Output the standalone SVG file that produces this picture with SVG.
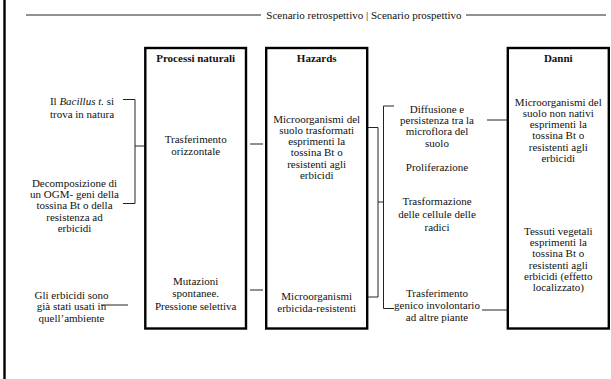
<svg xmlns="http://www.w3.org/2000/svg" width="611" height="379" viewBox="0 0 611 379">
<style>
text{font-family:"Liberation Serif","Times New Roman",serif;font-size:11px;fill:#111;text-anchor:middle}
.h{font-weight:bold}
.box{fill:#fff;stroke:#000;stroke-width:2.4}
.c{fill:none;stroke:#222;stroke-width:1}
</style>
<rect width="611" height="379" fill="#fff"/>
<line x1="4.5" y1="0" x2="4.5" y2="379" stroke="#000" stroke-width="2.4"/>
<g id="title">
<line x1="26" y1="15" x2="261" y2="15" stroke="#222" stroke-width="1"/>
<text x="364" y="18.5">Scenario retrospettivo | Scenario prospettivo</text>
<line x1="466" y1="15" x2="606" y2="15" stroke="#222" stroke-width="1"/>
</g>
<g id="left-bacillus">
<text x="82" y="105"><tspan>Il </tspan><tspan font-style="italic">Bacillus t.</tspan><tspan> si</tspan></text>
<text x="82" y="117.5">trova in natura</text>
</g>
<g id="left-decomposizione">
<text x="74.5" y="186.8">Decomposizione di</text>
<text x="74.5" y="198">un OGM- geni della</text>
<text x="74.5" y="209.3">tossina Bt o della</text>
<text x="74.5" y="220.5">resistenza ad</text>
<text x="74.5" y="231.8">erbicidi</text>
</g>
<g id="left-erbicidi">
<text x="71.5" y="298.5">Gli erbicidi sono</text>
<text x="71.5" y="310">già stati usati in</text>
<text x="71.5" y="321.5">quell’ambiente</text>
</g>
<g id="processi">
<rect class="box" x="145.3" y="48" width="100.7" height="280.5"/>
<text class="h" x="195.7" y="62">Processi naturali</text>
<text x="195.7" y="143">Trasferimento</text>
<text x="195.7" y="154.5">orizzontale</text>
<text x="195.7" y="285">Mutazioni</text>
<text x="195.7" y="297.2">spontanee.</text>
<text x="195.7" y="309.5">Pressione selettiva</text>
</g>
<g id="hazards">
<rect class="box" x="266.2" y="48" width="101" height="280.5"/>
<text class="h" x="316.7" y="62">Hazards</text>
<text x="316.7" y="122.8">Microorganismi del</text>
<text x="316.7" y="134">suolo trasformati</text>
<text x="316.7" y="145.2">esprimenti la</text>
<text x="316.7" y="156.4">tossina Bt o</text>
<text x="316.7" y="167.6">resistenti agli</text>
<text x="316.7" y="178.8">erbicidi</text>
<text x="316.7" y="300.2">Microorganismi</text>
<text x="316.7" y="311.8">erbicida-resistenti</text>
</g>
<g id="effetti">
<text x="437" y="112.5">Diffusione e</text>
<text x="437" y="123.8">persistenza tra la</text>
<text x="437" y="135.1">microflora del</text>
<text x="437" y="146.5">suolo</text>
<text x="437" y="170.5">Proliferazione</text>
<text x="437" y="205.2">Trasformazione</text>
<text x="437" y="218">delle cellule delle</text>
<text x="437" y="231">radici</text>
<text x="437" y="297">Trasferimento</text>
<text x="437" y="309">genico involontario</text>
<text x="437" y="320.5">ad altre piante</text>
</g>
<g id="danni">
<rect class="box" x="507.8" y="48" width="101" height="280.5"/>
<text class="h" x="558.3" y="62">Danni</text>
<text x="558.3" y="105.5">Microorganismi del</text>
<text x="558.3" y="116.8">suolo non nativi</text>
<text x="558.3" y="128.1">esprimenti la</text>
<text x="558.3" y="139.4">tossina Bt o</text>
<text x="558.3" y="150.7">resistenti agli</text>
<text x="558.3" y="162">erbicidi</text>
<text x="558.3" y="235.2">Tessuti vegetali</text>
<text x="558.3" y="246.3">esprimenti la</text>
<text x="558.3" y="257.4">tossina Bt o</text>
<text x="558.3" y="268.5">resistenti agli</text>
<text x="558.3" y="279.6">erbicidi (effetto</text>
<text x="558.3" y="290.8">localizzato)</text>
</g>
<g id="connectors">
<path class="c" d="M123,99.5 H135 V203.5 H123 M135,146 H144"/>
<path class="c" d="M101,305 H128"/>
<path class="c" d="M250,144 H263 M250,290 H263"/>
<path class="c" d="M368,127.5 H378 V297 H368"/>
<path class="c" d="M378,202 H383.5"/>
<path class="c" d="M394,106 H383.5 V308.5 H394"/>
<path class="c" d="M487,120 H507"/>
<path class="c" d="M482,310 H507"/>
</g>
</svg>
